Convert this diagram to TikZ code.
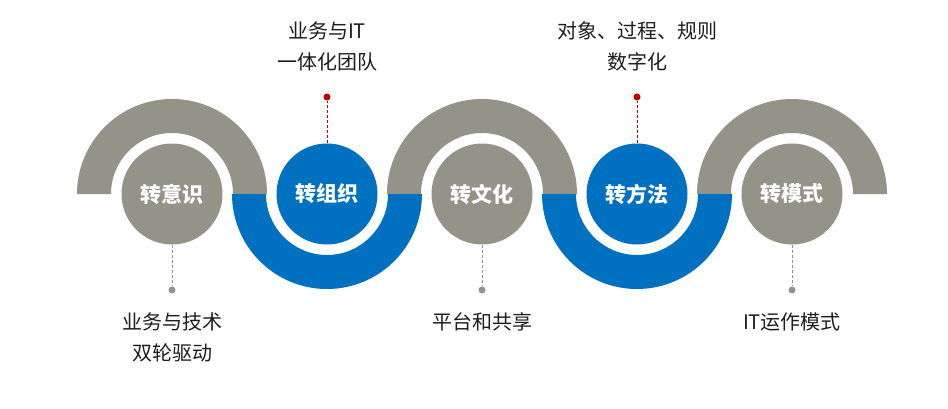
\documentclass[tikz,border=0pt]{standalone}
\usepackage{fontspec}
\setmainfont{Noto Sans CJK SC}
\definecolor{ringgray}{RGB}{147,147,135}
\definecolor{ringblue}{RGB}{0,112,192}
\definecolor{dotred}{RGB}{192,0,0}
\definecolor{txtdark}{RGB}{30,30,30}

\begin{document}
\begin{tikzpicture}[x=1pt,y=1pt,
	stage/.style={circle,minimum size=101pt,inner sep=0pt,text=white,font=\fontsize{21}{24}\selectfont\bfseries},
	lbl/.style={align=center,inner sep=0pt,text=txtdark,font=\fontsize{20}{31}\selectfont},
	gdot/.style={circle,fill=ringgray,minimum size=7pt,inner sep=0pt},
	rdot/.style={circle,fill=dotred,minimum size=7pt,inner sep=0pt},
	gline/.style={ringgray,line width=1pt,dash pattern=on 3pt off 2pt},
	rline/.style={dotred,line width=1pt,dash pattern=on 3pt off 2pt}]
	\useasboundingbox (0,0) rectangle (948,408);
	% half rings
	\foreach \cx in {172,482,792}
		\fill[ringgray] (\cx-95,214) arc[start angle=180,end angle=0,radius=95pt] -- ++(-34,0) arc[start angle=0,end angle=180,radius=61pt] -- cycle;
	\foreach \cx in {327,637}
		\fill[ringblue] (\cx-95,214) arc[start angle=180,end angle=360,radius=95pt] -- ++(-34,0) arc[start angle=360,end angle=180,radius=61pt] -- cycle;
	% stages
	\node[stage,fill=ringgray] (yishi) at (172,214) {转意识};
	\node[stage,fill=ringblue] (zuzhi) at (327,214) {转组织};
	\node[stage,fill=ringgray] (wenhua) at (482,214) {转文化};
	\node[stage,fill=ringblue] (fangfa) at (637,214) {转方法};
	\node[stage,fill=ringgray] (moshi) at (792,214) {转模式};
	% dots and leaders
	\node[gdot] (yishid) at (172,118) {};
	\node[rdot] (zuzhid) at (327,311) {};
	\node[gdot] (wenhuad) at (482,118) {};
	\node[rdot] (fangfad) at (637,311) {};
	\node[gdot] (moshid) at (792,118) {};
	\draw[gline] (yishi) -- (yishid);
	\draw[rline] (zuzhi) -- (zuzhid);
	\draw[gline] (wenhua) -- (wenhuad);
	\draw[rline] (fangfa) -- (fangfad);
	\draw[gline] (moshi) -- (moshid);
	% labels
	\node[lbl,anchor=north] (yishil) at (172,96) {业务与技术\\双轮驱动};
	\node[lbl,anchor=south] (zuzhil) at (327,337) {业务与IT\\一体化团队};
	\node[lbl,anchor=north] (wenhual) at (482,96) {平台和共享};
	\node[lbl,anchor=south] (fangfal) at (637,337) {对象、过程、规则\\数字化};
	\node[lbl,anchor=north] (moshil) at (792,96) {IT运作模式};
\end{tikzpicture}
\end{document}
